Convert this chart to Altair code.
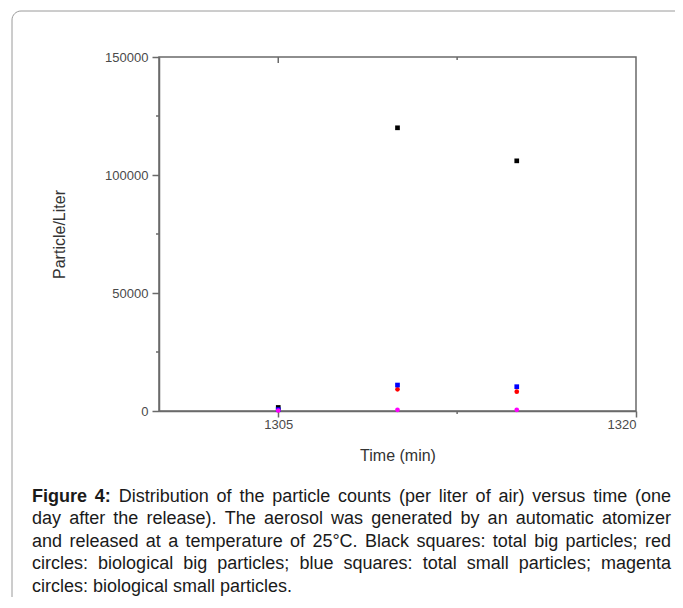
import altair as alt
import pandas as pd

# ---------------- data ----------------
time_min = [1305, 1310, 1315]
total_big = [1500, 120000, 106000]      # black squares
bio_big = [400, 9200, 8200]             # red circles
total_small = [600, 11000, 10300]       # blue squares
bio_small = [200, 500, 500]             # magenta circles

series_names = ["Total big", "Biological big", "Total small", "Biological small"]
series_values = [total_big, bio_big, total_small, bio_small]
series_colors = ["#000000", "#ff0000", "#0000ff", "#ff00ff"]
series_shapes = ["square", "circle", "square", "circle"]

x_domain = [1300, 1320]
y_domain = [0, 150000]
x_major = [1305, 1320]
x_minor = [1312.5]
y_major = [0, 50000, 100000, 150000]
y_minor = [25000, 75000, 125000]

caption_lines = [
    "Figure 4: Distribution of the particle counts (per liter of air) versus time (one",
    "day after the release). The aerosol was generated by an automatic atomizer",
    "and released at a temperature of 25°C. Black squares: total big particles; red",
    "circles: biological big particles; blue squares: total small particles; magenta",
    "circles: biological small particles.",
]
bold_words = 2  # "Figure 4:" is bold

# ---------------- layout (page pixels) ----------------
W, H = 477, 354
PAD_L, PAD_T = 151, 49
PAD_R, PAD_B = 39, 186
ORIGIN_X, ORIGIN_Y = 8 + PAD_L, 8 + PAD_T

rows = []
for s, vals in zip(series_names, series_values):
    for t, v in zip(time_min, vals):
        rows.append({"time": t, "value": v, "series": s})
df = pd.DataFrame(rows)

# Helvetica / Arial advance widths (per 1000 em)
HW = {" ": 278, "(": 333, ")": 333, ".": 278, ",": 278, ":": 278, ";": 278, "°": 400,
      "/": 278, "-": 333}
for d in "0123456789":
    HW[d] = 556
HW.update({"A": 667, "B": 667, "C": 722, "D": 722, "E": 667, "F": 611, "G": 778,
           "T": 611, "L": 556, "P": 667})
HW.update({"a": 556, "b": 556, "c": 500, "d": 556, "e": 556, "f": 278, "g": 556,
           "h": 556, "i": 222, "j": 222, "k": 500, "l": 222, "m": 833, "n": 556,
           "o": 556, "p": 556, "q": 556, "r": 333, "s": 500, "t": 278, "u": 556,
           "v": 500, "w": 722, "x": 500, "y": 500, "z": 500})
HWB = {"F": 611, "i": 278, "g": 611, "u": 611, "r": 389, "e": 556, "4": 556, ":": 333}

CAP_FS = 18
cap_left, cap_right = 32, 671
baselines = [501.5, 524, 546.5, 569, 591.5]


def word_w(w, bold):
    tab = HWB if bold else HW
    return sum(tab.get(c, HW.get(c, 556)) for c in w) * CAP_FS / 1000.0


cap_rows = []
for li, line in enumerate(caption_lines):
    words = line.split(" ")
    bolds = [(li == 0 and i < bold_words) for i in range(len(words))]
    widths = [word_w(w, b) for w, b in zip(words, bolds)]
    if li < len(caption_lines) - 1:
        gap = (cap_right - cap_left - sum(widths)) / (len(words) - 1)
    else:
        gap = HW[" "] * CAP_FS / 1000.0
    x = cap_left
    for w, b, ww in zip(words, bolds, widths):
        cap_rows.append({"px": x - ORIGIN_X, "py": baselines[li] - ORIGIN_Y,
                         "word": w, "bold": "b" if b else "n"})
        x += ww + gap
cap_df = pd.DataFrame(cap_rows)

FONT = "Liberation Sans"
AX_COL = "#6a6a6a"
LAB_COL = "#4a4a4a"

xscale = alt.Scale(domain=x_domain, nice=False, zero=False)
yscale = alt.Scale(domain=y_domain, nice=False, zero=False)

points = alt.Chart(df).mark_point(filled=True, opacity=1, size=22).encode(
    x=alt.X("time:Q", scale=xscale,
            axis=alt.Axis(values=x_major, format="d", title="Time (min)", grid=False,
                          tickSize=6, tickColor=AX_COL, tickWidth=1.5,
                          domainColor=AX_COL, domainWidth=1.5,
                          labelFontSize=13, labelColor=LAB_COL, labelFont=FONT,
                          labelPadding=1, titleFont=FONT, titleFontSize=16,
                          titleFontWeight="normal", titleColor="#333333",
                          titlePadding=16)),
    y=alt.Y("value:Q", scale=yscale,
            axis=alt.Axis(values=y_major, format="d", title="Particle/Liter", grid=False,
                          tickSize=7, tickColor=AX_COL, tickWidth=1.5,
                          domainColor=AX_COL, domainWidth=1.5,
                          labelFontSize=13, labelColor=LAB_COL, labelFont=FONT,
                          labelPadding=4, titleFont=FONT, titleFontSize=16,
                          titleFontWeight="normal", titleColor="#333333",
                          titlePadding=37)),
    color=alt.Color("series:N", scale=alt.Scale(domain=series_names, range=series_colors),
                    legend=None),
    shape=alt.Shape("series:N", scale=alt.Scale(domain=series_names, range=series_shapes),
                    legend=None),
    order=alt.Order("order:Q"),
).transform_calculate(
    order="indexof(" + str(series_names) + ", datum.series)"
)

xminor_df = pd.DataFrame({"t": x_minor})
yminor_df = pd.DataFrame({"v": y_minor})

x_minor_ticks = alt.Chart(xminor_df).mark_rule(color=AX_COL, strokeWidth=1.5).encode(
    x=alt.X("t:Q", scale=xscale), y=alt.value(H), y2=alt.value(H + 3))
y_minor_ticks = alt.Chart(yminor_df).mark_rule(color=AX_COL, strokeWidth=1.5).encode(
    y=alt.Y("v:Q", scale=yscale), x=alt.value(0), x2=alt.value(-3))
top_major = alt.Chart(pd.DataFrame({"t": [x_major[0]]})).mark_rule(
    color=AX_COL, strokeWidth=1.5).encode(
    x=alt.X("t:Q", scale=xscale), y=alt.value(0), y2=alt.value(6))
top_minor = alt.Chart(xminor_df).mark_rule(color=AX_COL, strokeWidth=1.5).encode(
    x=alt.X("t:Q", scale=xscale), y=alt.value(0), y2=alt.value(3))

border = alt.Chart(pd.DataFrame({"a": [0]})).mark_rect(
    fillOpacity=0, stroke="#9a9a9a", strokeWidth=1, cornerRadius=9).encode(
    x=alt.value(12 - ORIGIN_X), x2=alt.value(720 - ORIGIN_X),
    y=alt.value(11 - ORIGIN_Y), y2=alt.value(660 - ORIGIN_Y))

cap_base = alt.Chart(cap_df).encode(
    x=alt.X("px:Q", scale=None, axis=None),
    y=alt.Y("py:Q", scale=None, axis=None),
    text="word:N")
cap_normal = cap_base.transform_filter("datum.bold == 'n'").mark_text(
    align="left", baseline="alphabetic", font=FONT, fontSize=CAP_FS, color="#1a1a1a")
cap_bold = cap_base.transform_filter("datum.bold == 'b'").mark_text(
    align="left", baseline="alphabetic", font=FONT, fontSize=CAP_FS,
    fontWeight="bold", color="#1a1a1a")

chart = alt.layer(
    border, x_minor_ticks, y_minor_ticks, top_major, top_minor, points,
    cap_normal, cap_bold
).properties(
    width=W, height=H,
    autosize=alt.AutoSizeParams(type="none"),
    padding={"left": PAD_L, "top": PAD_T, "right": PAD_R, "bottom": PAD_B},
    background="white",
).configure_view(stroke=AX_COL, strokeWidth=1.5)

chart.save("out.html", embed_options={"renderer": "svg", "actions": False})
